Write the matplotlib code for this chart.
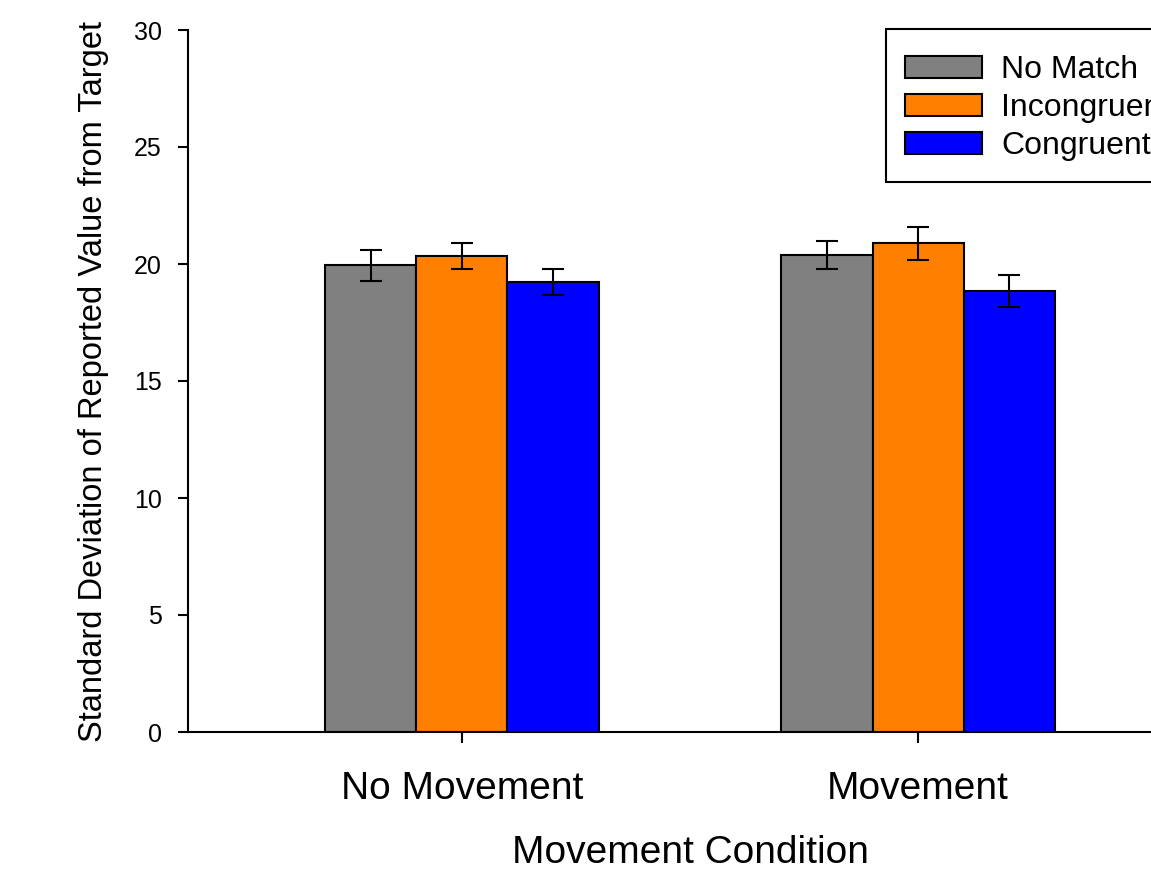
import matplotlib
matplotlib.use('Agg')
import matplotlib.pyplot as plt
from matplotlib.patches import Rectangle
import numpy as np

plt.rcParams['font.family'] = ['Liberation Sans', 'DejaVu Sans']

# group labels and series
conditions = ['No Movement', 'Movement']
series = ['No Match', 'Incongruent', 'Congruent']
colors = ['#808080', '#FF8000', '#0000FF']

# mean SD of reported value, per series, per movement condition
no_match = [19.94, 20.38]
incongruent = [20.34, 20.88]
congruent = [19.23, 18.85]

# standard error bars
no_match_err = [0.66, 0.59]
incongruent_err = [0.55, 0.72]
congruent_err = [0.57, 0.69]

means = [no_match, incongruent, congruent]
errs = [no_match_err, incongruent_err, congruent_err]

W, H = 1151, 869
fig = plt.figure(figsize=(W / 100, H / 100), dpi=100)
ax = fig.add_axes([188 / W, 137 / H, 1004 / W, 702 / H])

x = np.arange(len(conditions))
width = 0.2
for i in range(3):
    pos = x + (i - 1) * width
    ax.bar(pos, means[i], width, color=colors[i], edgecolor='black',
           linewidth=1.5, label=series[i], zorder=2)
    ax.errorbar(pos, means[i], yerr=errs[i], fmt='none', ecolor='black',
                elinewidth=1.5, capsize=8, capthick=1.5, zorder=3)

ax.set_xlim(-0.6, 1.6)
ax.set_ylim(0, 30)
ax.set_yticks(np.arange(0, 31, 5))
ax.set_xticks(x)
ax.set_xticklabels(conditions, fontsize=28)
ax.tick_params(axis='y', labelsize=18, length=7, width=1.5, pad=12, direction='out')
ax.tick_params(axis='x', length=8, width=1.5, pad=20, direction='out')

ax.spines['top'].set_visible(False)
ax.spines['right'].set_visible(False)
ax.spines['left'].set_linewidth(1.5)
ax.spines['bottom'].set_linewidth(1.5)

ax.set_xlabel('Movement Condition', fontsize=28, labelpad=20)
ax.set_ylabel('Standard Deviation of Reported Value from Target', fontsize=23.5, labelpad=18)

# legend box drawn separately so the padding can differ per side
frame = Rectangle((886 / W, 1 - 182 / H), 300 / W, 153 / H, transform=fig.transFigure,
                  facecolor='white', edgecolor='black', linewidth=1.5,
                  clip_on=False, zorder=4)
ax.add_patch(frame)

leg = ax.legend(loc='upper left', bbox_to_anchor=(886 / W, 1 - 36 / H),
                bbox_transform=fig.transFigure, fontsize=23, frameon=False,
                borderaxespad=0, borderpad=0.6, handlelength=2.4, handleheight=0.65,
                handletextpad=0.6, labelspacing=0.25)
leg.set_zorder(5)

fig.savefig('out.png', dpi=100)
